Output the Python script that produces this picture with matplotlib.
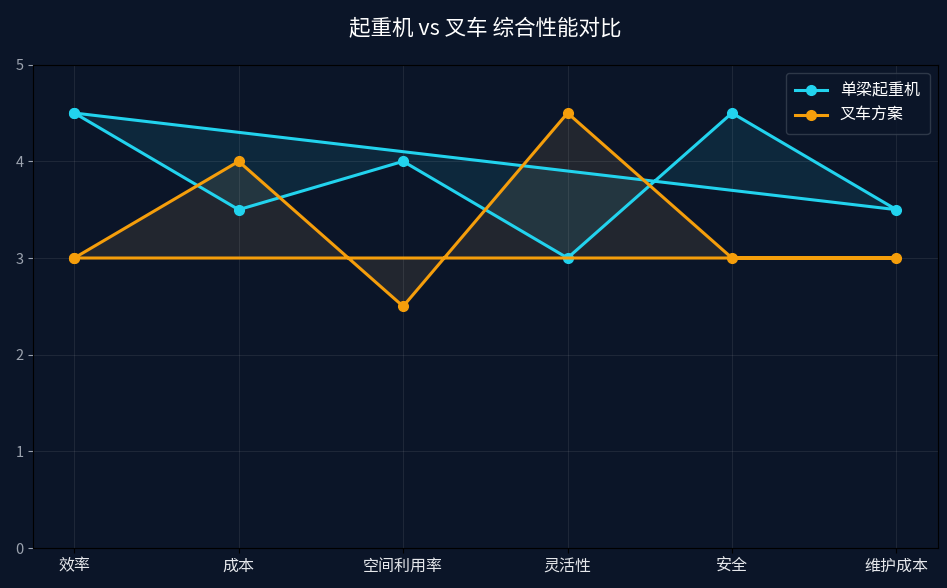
import matplotlib.pyplot as plt

plt.rcParams['font.family'] = ['Noto Sans CJK SC', 'DejaVu Sans']

categories = ['效率', '成本', '空间利用率', '灵活性', '安全', '维护成本']
crane = [4.5, 3.5, 4, 3, 4.5, 3.5]
forklift = [3, 4, 2.5, 4.5, 3, 3]

bg = '#0b1528'
cyan = '#22d3ee'
orange = '#f59e0b'

fig, ax = plt.subplots(figsize=(9.47, 5.88), dpi=100)
fig.patch.set_facecolor(bg)
ax.set_facecolor(bg)

# close the polygons like a radar chart
x = list(range(len(categories)))
xs = x + [x[0]]
c = crane + [crane[0]]
f = forklift + [forklift[0]]

ax.plot(xs, c, color=cyan, linewidth=2.2, marker='o', markersize=7, label='单梁起重机')
ax.fill(xs, c, color=cyan, alpha=0.1)
ax.plot(xs, f, color=orange, linewidth=2.2, marker='o', markersize=7, label='叉车方案')
ax.fill(xs, f, color='#b0905a', alpha=0.14)

ax.set_ylim(0, 5)
ax.set_xticks(x)
ax.set_xticklabels(categories, fontsize=11.5)
ax.tick_params(axis='y', colors='#9ca3af', labelsize=10.5)
ax.tick_params(axis='x', colors='black')
for lbl in ax.get_xticklabels():
    lbl.set_color('#e5e7eb')
for s in ax.spines.values():
    s.set_color('black')
ax.grid(True, color='#ffffff', alpha=0.08, linewidth=0.8)

ax.set_title('起重机 vs 叉车 综合性能对比', color='white', fontsize=15.5, pad=22)
leg = ax.legend(loc='upper right', facecolor=bg, edgecolor='#374151', fontsize=11.5,
                borderpad=0.6)
for t in leg.get_texts():
    t.set_color('white')

plt.subplots_adjust(left=0.035, right=0.99, top=0.89, bottom=0.068)
plt.savefig('out.png', facecolor=bg)
